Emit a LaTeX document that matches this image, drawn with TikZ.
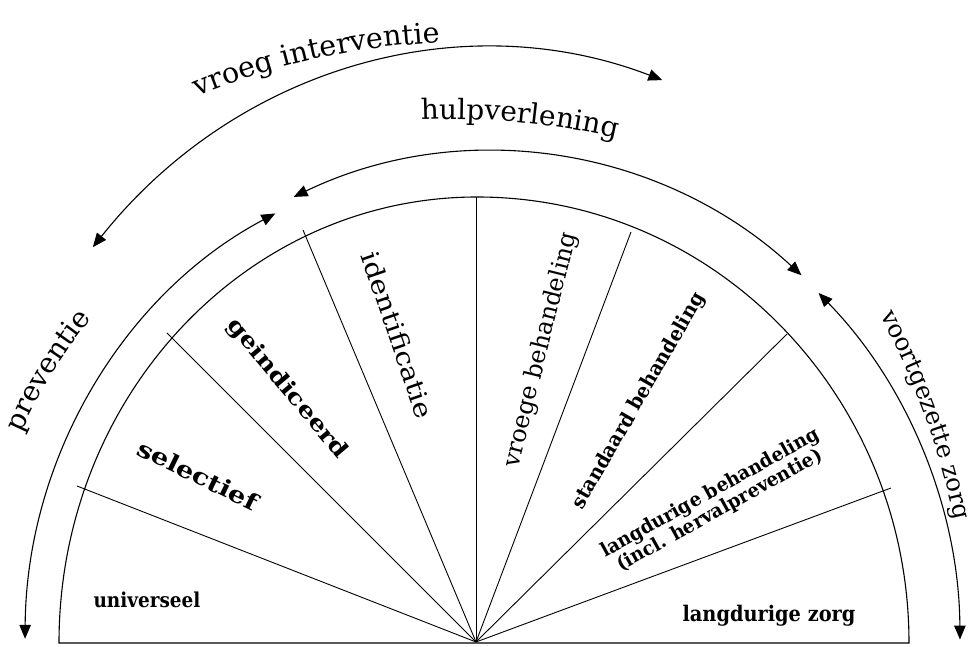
\documentclass[tikz,border=0pt]{standalone}
\usepackage{fontspec}
\setmainfont{DejaVu Serif}
\newfontfamily\widefont{DejaVu Serif}[FakeStretch=1.2]
\newfontfamily\midfont{DejaVu Serif}[FakeStretch=1.15]
\newfontfamily\narfont{DejaVu Serif}[FakeStretch=0.9]
\newfontfamily\semfont{DejaVu Serif}[FakeStretch=0.95]
\usetikzlibrary{arrows.meta,decorations.text,calc}
\begin{document}
\begin{tikzpicture}[x=1pt,y=1pt,line width=1.1pt,
  arr/.style={{Triangle[length=14pt,width=11.5pt]}-{Triangle[length=14pt,width=11.5pt]}},
  lab/.style={inner sep=0pt,align=center}]
\useasboundingbox (0,0) rectangle (977,647);
% inner half disc
\coordinate (A) at (476,5);
\coordinate (L) at (59,4);
\coordinate (R) at (908,4);
\coordinate (S1) at (77,161);
\coordinate (S2) at (167,314);
\coordinate (S3) at (303,417);
\coordinate (S4) at (476,450);
\coordinate (S5) at (631,415);
\coordinate (S6) at (787,313);
\coordinate (S7) at (891,159);
\draw (L) arc[start angle=180,end angle=90,x radius=418,y radius=446]
          arc[start angle=90,end angle=0,x radius=432,y radius=446] -- cycle;
\foreach \s in {S1,S2,S3,S4,S5,S6,S7} \draw[line width=0.9pt] (A) -- (\s);
% arrows
\draw[arr] ([shift={(477,4)}]116.5:452 and 480) arc[start angle=116.5,end angle=179.5,x radius=452,y radius=480];
\draw[arr] ([shift={(490,4)}]138.3:532 and 595) arc[start angle=138.3,end angle=71.1,x radius=532,y radius=595];
\draw[arr] ([shift={(490,4)}]114.7:470 and 491) arc[start angle=114.7,end angle=48.5,x radius=470,y radius=491];
\draw[arr] ([shift={(477,4)}]45:483 and 495) arc[start angle=45,end angle=0.4,x radius=483,y radius=495];
% curved labels
\path[decorate,decoration={text along path,text align=center,
  text={|\fontsize{28.5}{30}\selectfont|vroeg interventie}}]
  ([shift={(468,-95)}]125:700) arc[start angle=125,end angle=80,radius=700];
\path[decorate,decoration={text along path,text align=center,
  text={|\fontsize{28}{30}\selectfont|hulpverlening}}]
  ([shift={(450,-212)}]104.6:740) arc[start angle=104.6,end angle=64.6,radius=740];
\path[decorate,decoration={text along path,text align=center,
  text={|\fontsize{28}{30}\selectfont|preventie}}]
  ([shift={(477,4)}]173:500 and 510) arc[start angle=173,end angle=123,x radius=500,y radius=510];
\path[decorate,decoration={text along path,text align=center,
  text={|\fontsize{24.5}{27}\selectfont|voortgezette zorg}}]
  ([shift={(173,-42)}]32:800) arc[start angle=32,end angle=8,radius=800];
% sector labels
\node[lab,font=\fontsize{20.5}{22}\narfont\bfseries] (uni) at (147,47) {universeel};
\node[lab,rotate=-26,font=\fontsize{23}{25}\widefont\bfseries] (sel) at (198,172) {selectief};
\node[lab,rotate=-50,font=\fontsize{22}{24}\widefont\bfseries] (gei) at (287,258) {geindiceerd};
\node[lab,rotate=-71,font=\fontsize{25}{27}\midfont] (ide) at (398,312) {identificatie};
\node[lab,rotate=76,font=\fontsize{24}{26}\selectfont] (vbe) at (541,297) {vroege behandeling};
\node[lab,rotate=60,font=\fontsize{20}{22}\semfont\bfseries] (sbe) at (639,246) {standaard behandeling};
\node[lab,rotate=29,font=\fontsize{19.3}{17.5}\semfont\bfseries] (lbe) at (715,145) {langdurige behandeling\\(incl. hervalpreventie)};
\node[lab,font=\fontsize{21.5}{23}\narfont\bfseries] (lzo) at (769,31) {langdurige zorg};
\end{tikzpicture}
\end{document}
